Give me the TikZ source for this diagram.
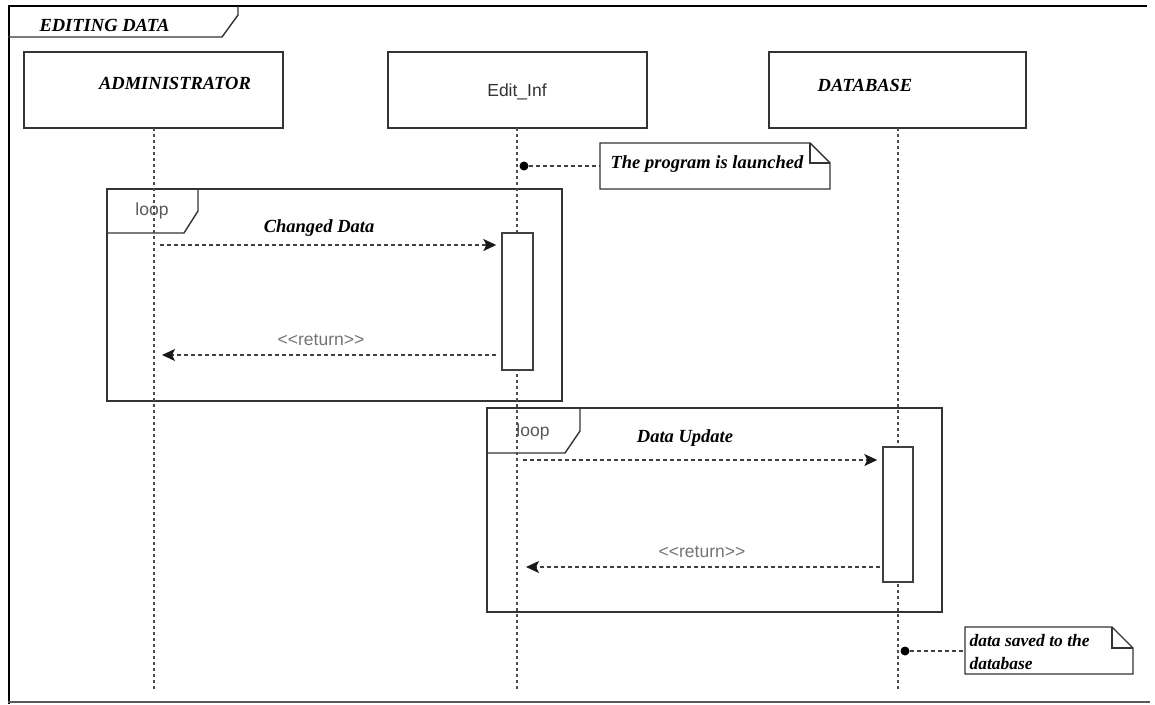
\documentclass[tikz,border=0pt]{standalone}
\usepackage{fontspec}
\setmainfont{Liberation Serif}
\newfontfamily\arialf[Ligatures=TeXOff]{Liberation Sans}
\usetikzlibrary{arrows.meta}
\begin{document}
\begin{tikzpicture}[x=1pt,y=-1pt,
  frameline/.style={draw=black!80, line width=1.4pt},
  head/.style={draw=black!80, line width=1.4pt, fill=white, minimum width=259pt, minimum height=76pt, inner sep=0pt},
  lifeline/.style={draw=black!70, line width=1.2pt, dash pattern=on 3pt off 3pt},
  actbox/.style={draw=black!75, line width=1.4pt, fill=white, minimum width=31pt, inner sep=0pt},
  msg/.style={draw=black!75, line width=1.5pt, dash pattern=on 4pt off 3pt, -{Stealth[length=13pt,width=12pt,inset=3pt,color=black!90,fill=black!90]}},
  notelink/.style={draw=black!75, line width=1.2pt, dash pattern=on 4pt off 3pt},
  bi/.style={font=\fontsize{18.5}{20}\selectfont\bfseries\itshape, text=black},
  sans/.style={font=\arialf\fontsize{17.5}{19}\selectfont, text=black!55},
  dot/.style={circle, fill=black, inner sep=0pt, minimum size=9pt}
]
\useasboundingbox (0,0) rectangle (1155,704);

% outer frame
\draw[draw=black, line width=2.5pt] (9,5) -- (9,704);
\draw[draw=black, line width=1.8pt] (8,6) -- (1147,6);
\draw[draw=black!65, line width=1.8pt] (8,702) -- (1150,702);
\draw[frameline] (8,37) -- (222,37) -- (238,15) -- (238,6);
\node[bi, anchor=west] (title) at (36,25) {EDITING DATA};

% loop frames
\draw[frameline] (107,189) rectangle (562,401);
\draw[frameline] (107,233) -- (184,233) -- (198,211) -- (198,189);
\node[sans, text=black!65] (loop1) at (152,211) {loop};
\draw[frameline] (487,408) rectangle (942,612);
\draw[frameline] (487,453) -- (565,453) -- (580,431) -- (580,408);
\node[sans, text=black!65] (loop2) at (533,432) {loop};

% lifeline heads
\node[head] (admin) at (153.5,90) {};
\node[bi] (adminT) at (175,83) {ADMINISTRATOR};
\node[head] (edit) at (517.5,90) {};
\node[sans, text=black!80] (editT) at (517,92) {Edit\_Inf};
\node[head, minimum width=257pt] (db) at (897.5,90) {};
\node[bi] (dbT) at (865,85) {DATABASE};

% lifelines
\coordinate (adminEnd) at (154,690);
\coordinate (editEnd) at (517,690);
\coordinate (dbEnd) at (898,690);
\draw[lifeline] (154,128) -- (adminEnd);
\draw[lifeline] (517,128) -- (editEnd);
\draw[lifeline] (898,128) -- (dbEnd);

% activation boxes
\node[actbox, minimum height=137pt] (act1) at (517.5,301.5) {};
\node[actbox, minimum width=30pt, minimum height=135pt] (act2) at (898,514.5) {};

% messages
\coordinate (m1s) at (160,245);
\draw[msg, shorten >=5pt] (m1s) -- (act1.west |- m1s);
\node[bi] (m1l) at (319,228) {Changed Data};
\coordinate (r1e) at (162,355);
\draw[msg, shorten <=5pt] (act1.west |- r1e) -- (r1e);
\node[sans] (r1l) at (321,340) {<<return>>};

\coordinate (m2s) at (523,460);
\draw[msg, shorten >=5pt] (m2s) -- (act2.west |- m2s);
\node[bi] (m2l) at (685,438) {Data Update};
\coordinate (r2e) at (526,567);
\draw[msg, shorten <=2pt] (act2.west |- r2e) -- (r2e);
\node[sans] (r2l) at (702,552) {<<return>>};

% note 1
\draw[frameline, fill=white] (600,143) -- (810,143) -- (830,163) -- (830,189) -- (600,189) -- cycle;
\draw[frameline] (810,143) -- (810,163) -- (830,163);
\node[bi] (n1) at (707,164) {The program is launched};
\node[dot] (d1) at (524,166) {};
\draw[notelink] (d1) -- (600,166);

% note 2
\draw[frameline, fill=white] (965,627) -- (1112,627) -- (1133,648) -- (1133,674) -- (965,674) -- cycle;
\draw[frameline] (1112,627) -- (1112,648) -- (1133,648);
\begin{scope}
  \clip (966,628) rectangle (1132,672);
  \node[bi, anchor=west, font=\fontsize{17.5}{19}\selectfont\bfseries\itshape] (n2a) at (966,641) {data saved to the};
  \node[bi, anchor=west, font=\fontsize{17.5}{19}\selectfont\bfseries\itshape] (n2b) at (966,664) {database};
\end{scope}
\node[dot] (d2) at (905,651) {};
\draw[notelink] (d2) -- (965,651);
\end{tikzpicture}
\end{document}
